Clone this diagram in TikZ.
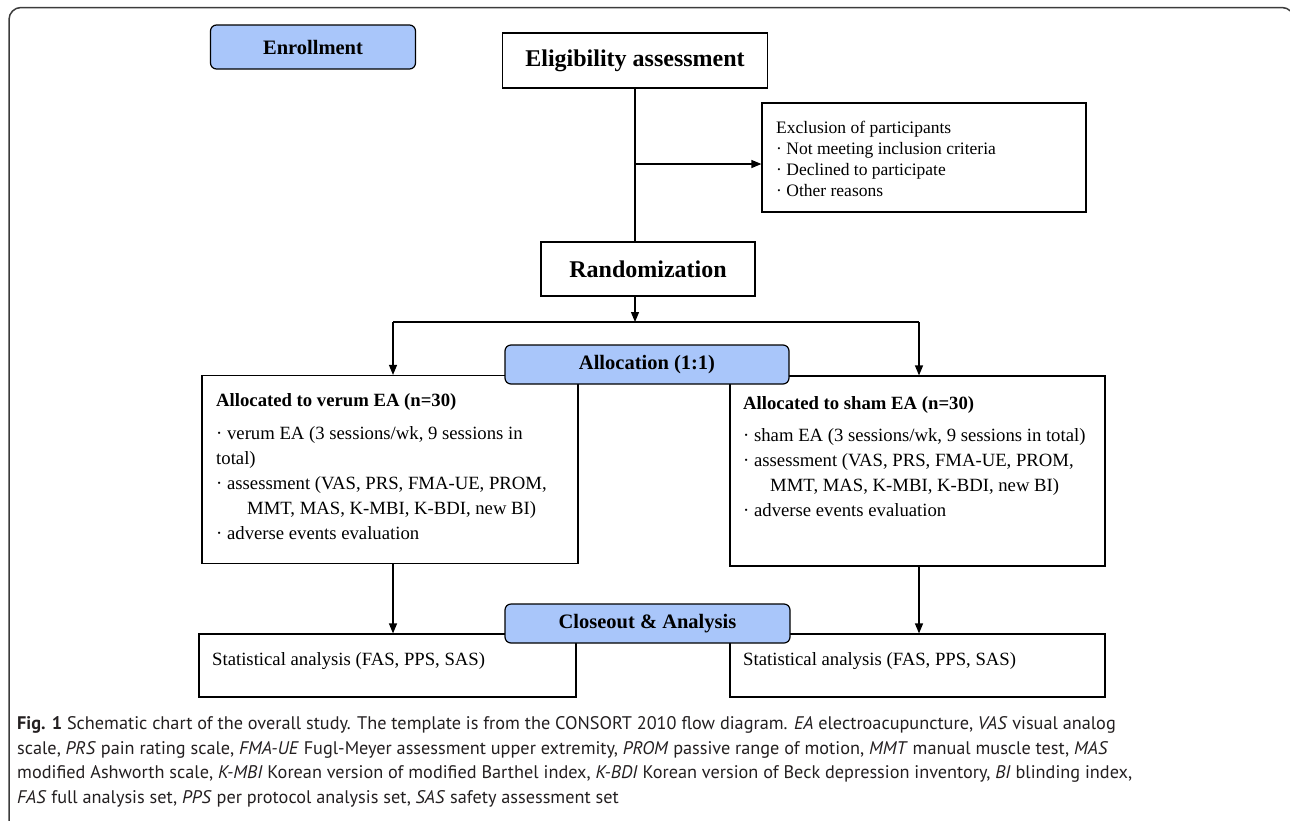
\documentclass[tikz,border=0pt]{standalone}
\usepackage{fontspec}
\setmainfont{Liberation Serif}
\newfontfamily\capfont{PT Sans}
\usetikzlibrary{arrows.meta,calc}
\definecolor{bluefill}{HTML}{A9C6FA}
\definecolor{framegray}{HTML}{3C3C3C}
\definecolor{captext}{HTML}{231F20}
\begin{document}
\begin{tikzpicture}[x=1pt,y=-1pt,
  box/.style={draw=black, line width=1.2pt, fill=white, inner sep=0pt},
  phase/.style={draw=black, line width=1.2pt, fill=bluefill, rounded corners=6pt, inner sep=0pt, font=\fontsize{20.5}{24}\selectfont\bfseries},
  title/.style={font=\fontsize{24}{28}\selectfont\bfseries},
  body/.style={anchor=base west, inner sep=0pt, font=\fontsize{18.7}{24}\selectfont},
  bodyb/.style={body, font=\fontsize{18.7}{24}\selectfont\bfseries},
  small/.style={anchor=base west, inner sep=0pt, font=\fontsize{17.5}{21}\selectfont},
  captxt/.style={anchor=base west, inner sep=0pt, text=captext, font=\capfont\fontsize{18.25}{24}\selectfont},
  arr/.style={line width=1.2pt, -{Triangle[length=10pt,width=8pt]}},
  ln/.style={line width=1.2pt}]
\useasboundingbox (0,0) rectangle (1290,820);
\begin{scope}
\clip (0,0) rectangle (1290,820);
\draw[framegray, line width=1.5pt, rounded corners=12pt] (9,7.5) rectangle (1294,900);
\end{scope}

% boxes
\node[phase, minimum width=205pt, minimum height=44pt] (enroll) at (313,47) {Enrollment};
\node[box, title, minimum width=265pt, minimum height=55pt] (elig) at (635,60.5) {Eligibility assessment};
\node[box, minimum width=324pt, minimum height=109pt] (excl) at (924,157.5) {};
\node[box, title, minimum width=214pt, minimum height=54pt] (rand) at (648,269) {Randomization};
\node[box, minimum width=376pt, minimum height=188pt] (lbox) at (390,469.5) {};
\node[box, minimum width=375pt, minimum height=190pt] (rbox) at (917.5,471) {};
\node[box, minimum width=377pt, minimum height=63pt] (lstat) at (387.5,665.5) {};
\node[box, minimum width=375pt, minimum height=63pt] (rstat) at (917.5,665.5) {};

% texts
\node[small] (ex1) at (776,133) {Exclusion of participants};
\node[small] (ex2) at (776,154) {· Not meeting inclusion criteria};
\node[small] (ex3) at (776,175) {· Declined to participate};
\node[small] (ex4) at (776,196) {· Other reasons};

\node[bodyb] (lh) at (216,406) {Allocated to verum EA (n=30)};
\node[body] (l1) at (216,439) {· verum EA (3 sessions/wk, 9 sessions in};
\node[body] (l2) at (216,464) {total)};
\node[body] (l3) at (216,489) {· assessment (VAS, PRS, FMA-UE, PROM,};
\node[body] (l4) at (247,514) {MMT, MAS, K-MBI, K-BDI, new BI)};
\node[body] (l5) at (216,539) {· adverse events evaluation};

\node[bodyb] (rh) at (743,409) {Allocated to sham EA (n=30)};
\node[body] (r1) at (743,441) {· sham EA (3 sessions/wk, 9 sessions in total)};
\node[body] (r2) at (743,466) {· assessment (VAS, PRS, FMA-UE, PROM,};
\node[body] (r3) at (770,491) {MMT, MAS, K-MBI, K-BDI, new BI)};
\node[body] (r4) at (743,516) {· adverse events evaluation};

\node[body] (ls) at (212,665) {Statistical analysis (FAS, PPS, SAS)};
\node[body] (rs) at (743,665) {Statistical analysis (FAS, PPS, SAS)};

% connectors
\coordinate (exj) at (635,164);
\coordinate (rj) at (635,322);
\coordinate (lj) at (393,322);
\coordinate (rrj) at (919,322);
\draw[ln] (elig.south) -- (elig.south |- rand.north);
\draw[arr] (exj) -- (exj -| excl.west);
\draw[arr] (rand.south -| rj) -- (rj);
\draw[ln] (lj) -- (rrj);
\draw[arr] (lj) -- (lj |- lbox.north);
\draw[arr] (rrj) -- (rrj |- rbox.north);
\draw[arr] (lj |- lbox.south) -- (lj |- lstat.north);
\draw[arr] (rrj |- rbox.south) -- (rrj |- rstat.north);

% phase labels on top
\node[phase, minimum width=284pt, minimum height=39pt] (alloc) at (647,364.5) {Allocation (1:1)};
\node[phase, minimum width=285pt, minimum height=39pt] (close) at (647.5,623.5) {Closeout \& Analysis};

% caption
\node[captxt] (c1) at (17,729) {\textbf{Fig. 1} Schematic chart of the overall study. The template is from the CONSORT 2010 flow diagram. \textit{EA} electroacupuncture, \textit{VAS} visual analog};
\node[captxt] (c2) at (17,754) {scale, \textit{PRS} pain rating scale, \textit{FMA-UE} Fugl-Meyer assessment upper extremity, \textit{PROM} passive range of motion, \textit{MMT} manual muscle test, \textit{MAS}};
\node[captxt] (c3) at (17,778) {modified Ashworth scale, \textit{K-MBI} Korean version of modified Barthel index, \textit{K-BDI} Korean version of Beck depression inventory, \textit{BI} blinding index,};
\node[captxt] (c4) at (17,803) {\textit{FAS} full analysis set, \textit{PPS} per protocol analysis set, \textit{SAS} safety assessment set};
\end{tikzpicture}
\end{document}
